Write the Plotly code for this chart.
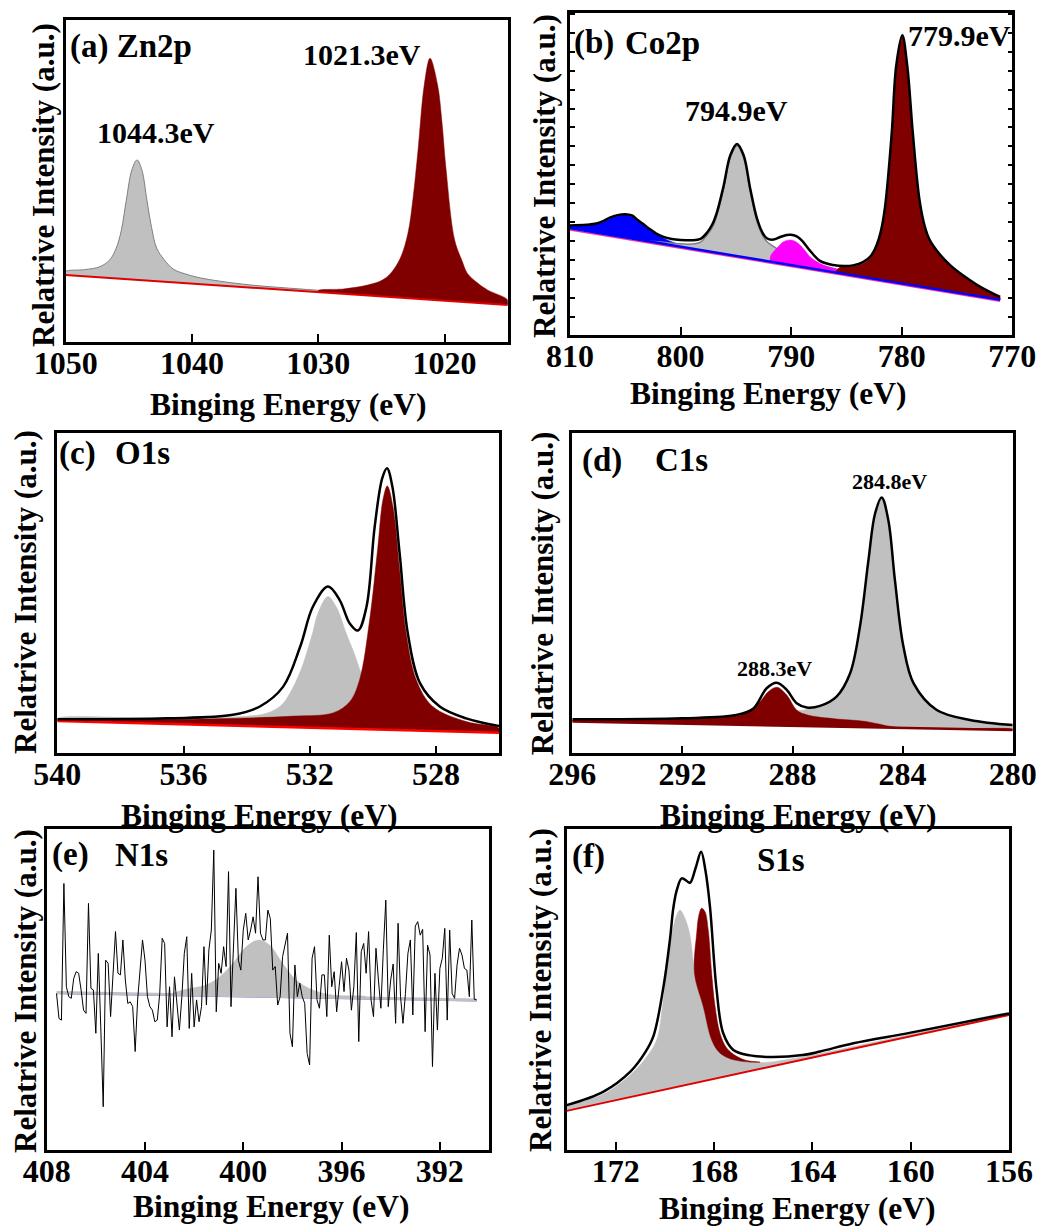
import plotly.graph_objects as go

W, H = 1044, 1232

# ---------------- DATA ----------------
# (a) Zn2p
zn_base_E = [1050, 1015]
zn_base_I = [20.7, 11.4]
zn_gray_E = [1050, 1050, 1048.5, 1047.3, 1046.5, 1046.0, 1045.6, 1045.2, 1044.76, 1044.35, 1043.97, 1043.57,
             1043.2, 1042.8, 1042.2, 1041.46, 1040.3, 1039.3, 1036, 1030.1, 1025, 1020, 1015, 1015]
zn_gray_I = [20.7, 21.8, 22.4, 23.3, 25.5, 29.1, 34.5, 44.0, 53.4, 56.5, 53.4, 44.0,
             35.5, 29.1, 25.5, 22.5, 20.8, 19.8, 17.9, 16.0, 14.5, 13.3, 12.0, 11.4]
zn_red_E = [1030, 1030, 1028, 1026.1, 1025, 1024.26, 1023.5, 1022.9, 1022.5, 1022.1, 1021.6, 1021.15,
            1020.56, 1020.2, 1019.9, 1019.2, 1018.6, 1018.2, 1017.4, 1016.6, 1015, 1015]
zn_red_I = [15.4, 15.9, 16.4, 17.6, 19.0, 21.3, 26.0, 33.7, 44.5, 59.6, 80.0, 88.1,
            80.0, 68.0, 54.4, 31.6, 25.0, 21.3, 18.3, 16.1, 13.0, 11.4]

# (b) Co2p
co_base_E = [810, 771.1]
co_base_I = [33.1, 10.9]
co_pink_I = [32.6, 10.5]
co_blue_E = [810, 810, 808.5, 807.6, 806.9, 806.4, 805.7, 805.0, 804.4, 804.0, 803.4, 802.8, 802.2,
             801.6, 800.8, 800.0, 799.0, 798.5]
co_blue_I = [33.1, 33.8, 34.0, 34.4, 35.2, 36.1, 36.9, 37.2, 36.8, 35.7, 34.2, 32.6, 31.3,
             30.2, 28.9, 27.9, 27.0, 26.5]
co_gray_E = [803.0, 802.0, 800.5, 799.0, 798.2, 797.6, 797.1, 796.7, 796.1, 795.5, 794.9, 794.3, 793.7,
             793.1, 792.6, 792.2, 791.3, 790.4, 789.0, 787.4, 786.0, 784.0, 784.0]
co_gray_I = [29.1, 28.9, 28.4, 28.2, 28.8, 31.0, 33.5, 37.3, 45.6, 55.0, 58.7, 55.0, 44.6,
             35.3, 31.0, 29.0, 26.8, 25.0, 23.5, 21.8, 20.5, 18.8, 18.3]
co_mag_E = [791.9, 791.85, 791.3, 790.7, 790.05, 789.5, 789.2, 788.7, 788.3, 787.8, 787.4, 786.8,
            786.2, 785.5, 784.5, 784.5]
co_mag_I = [22.7, 24.6, 26.9, 28.9, 29.5, 28.8, 27.9, 26.0, 24.3, 23.0, 22.2, 21.3,
            20.7, 20.0, 19.2, 18.6]
co_red_E = [786.0, 785.6, 784.4, 783.5, 782.8, 782.3, 781.9, 781.5, 780.9, 780.5, 779.95, 779.5,
            779.0, 778.4, 777.9, 777.5, 776.6, 775.6, 774.5, 773.2, 772.0, 771.1, 771.1]
co_red_I = [19.4, 21.0, 21.3, 22.2, 24.2, 27.4, 31.8, 39.8, 62.6, 83.3, 92.8, 83.3,
            62.6, 41.9, 33.3, 29.5, 25.0, 21.4, 18.4, 15.4, 13.1, 11.6, 10.9]
co_env_E = [810, 808.5, 807.6, 806.9, 806.4, 805.7, 805.0, 804.4, 804.0, 803.4, 802.8, 802.2, 801.6,
            800.8, 800.0, 799.0, 798.2, 797.6, 797.1, 796.7, 796.1, 795.5, 794.9, 794.3, 793.7,
            793.1, 792.6, 792.2, 791.6, 791.0, 790.4, 790.05, 789.5, 789.0, 788.3, 787.4, 786.2,
            785.2, 784.4, 783.5, 782.8, 782.3, 781.9, 781.5, 780.9, 780.5, 779.95, 779.5, 779.0,
            778.4, 777.9, 777.5, 776.6, 775.6, 774.5, 773.2, 772.0, 771.1]
co_env_I = [34.0, 34.2, 34.6, 35.5, 36.4, 37.2, 37.5, 37.1, 36.0, 34.5, 32.9, 31.5, 30.5,
            29.8, 29.5, 29.4, 29.8, 31.8, 34.5, 38.2, 46.4, 55.8, 59.3, 55.8, 45.4,
            36.3, 31.8, 30.0, 29.6, 30.4, 31.0, 31.1, 30.6, 29.2, 26.2, 23.0, 21.7,
            21.4, 21.6, 22.6, 24.5, 27.6, 32.0, 40.0, 62.8, 83.5, 93.0, 83.5, 62.8,
            42.1, 33.5, 29.7, 25.2, 21.6, 18.6, 15.6, 13.3, 11.8]

# (c) O1s
o_base_E = [540, 526]
o_base_I = [10.1, 6.4]
o_gray_E = [540, 540, 537, 535.5, 534.4, 533.37, 532.9, 532.63, 532.3, 532.1, 531.9, 531.74, 531.42,
            531.16, 531.0, 530.84, 530.6, 530.36, 530.0, 529.5, 529.0, 528.1, 527.0, 526.0, 526.0]
o_gray_I = [10.1, 10.9, 10.9, 11.0, 11.3, 12.5, 15.0, 18.7, 25.5, 31.2, 37.8, 43.7, 48.9,
            45.7, 42.0, 37.4, 31.5, 24.9, 18.5, 13.5, 11.0, 8.6, 7.4, 6.9, 6.4]
o_red_E = [540, 540, 536, 534, 532.5, 531.26, 530.73, 530.42, 530.1, 529.84, 529.68, 529.54, 529.36,
           529.15, 528.94, 528.62, 528.1, 527.04, 526, 526]
o_red_I = [10.1, 10.4, 10.6, 11.0, 11.6, 12.6, 16.1, 22.9, 41.6, 64.4, 79.0, 83.4, 76.9,
           57.2, 37.4, 22.9, 14.6, 9.9, 7.8, 6.4]
o_env_E = [540, 536.5, 534.43, 533.58, 532.84, 532.3, 531.9, 531.42, 531.05, 530.73, 530.47, 530.2,
           529.94, 529.7, 529.55, 529.38, 529.15, 528.89, 528.5, 527.88, 527.04, 526]
o_env_I = [10.6, 10.9, 12.0, 14.6, 20.8, 33.3, 45.7, 52.0, 47.8, 40.5, 38.3, 45.7,
           70.7, 85.8, 88.9, 83.2, 62.4, 37.4, 21.8, 14.6, 10.9, 8.5]

# (d) C1s
c_base_E = [296, 280]
c_base_I = [9.9, 7.3]
c_gray_E = [288.3, 288.2, 287.6, 287.0, 286.4, 285.91, 285.55, 285.24, 285.0, 284.76, 284.52, 284.28,
            283.97, 283.6, 282.76, 281.55, 280.0, 280.0]
c_gray_I = [8.65, 12.6, 13.5, 14.5, 17.5, 24.7, 39.3, 60.0, 74.5, 79.3, 72.5, 53.8,
            33.0, 21.5, 13.2, 10.1, 8.5, 7.3]
c_red_E = [296, 296, 293, 291, 290.63, 289.67, 289.18, 288.88, 288.57, 288.21, 287.85, 287.48,
           286.4, 285.4, 284.45, 284.0, 282.0, 280.0, 280.0]
c_red_I = [9.9, 10.3, 10.6, 11.0, 11.2, 12.5, 16.1, 19.2, 20.6, 18.2, 13.5, 12.0,
           10.7, 10.0, 8.4, 8.0, 7.7, 7.5, 7.3]
c_env_E = [296, 292, 290, 289.42, 288.94, 288.57, 288.21, 287.85, 287.48, 287.0, 286.4, 285.91,
           285.55, 285.24, 285.0, 284.76, 284.52, 284.28, 283.97, 283.6, 282.76, 281.55, 280]
c_env_I = [10.6, 10.9, 12.0, 14.0, 20.3, 22.0, 19.8, 15.6, 14.3, 14.8, 17.7, 24.9,
           39.5, 60.3, 74.8, 79.8, 72.8, 54.1, 33.3, 21.8, 13.5, 10.4, 8.8]

# (e) N1s
n_base_E = [407.6, 390.5]
n_base_I = [49.1, 46.8]
n_blue_I = [48.75, 46.45]
n_gray_E = [403.0, 402.45, 401.5, 400.96, 400.42, 399.88, 399.37, 398.93, 398.4, 397.85, 397.17,
            396.36, 395.0, 395.0]
n_gray_I = [48.5, 49.9, 51.5, 54.0, 58.2, 63.4, 65.5, 63.9, 58.2, 53.0, 49.9,
            48.3, 47.8, 47.4]
n_raw_start = 407.6
n_raw_step = -0.1
n_raw_I = [48.8, 41.0, 40.5, 83.1, 50.9, 47.8, 47.3, 53.5, 55.6, 55.1,
           49.9, 43.6, 42.6, 76.9, 50.4, 49.9, 36.4, 61.3, 38.4, 13.5,
           59.2, 58.2, 41.6, 55.1, 68.1, 55.1, 54.6, 65.5, 53.0, 45.7,
           46.2, 44.7, 30.7, 46.8, 57.2, 65.5, 59.2, 47.8, 44.7, 43.6,
           40.0, 40.5, 48.8, 66.0, 64.4, 38.4, 50.9, 35.3, 54.0, 44.7,
           37.4, 47.8, 61.3, 66.5, 37.9, 55.1, 38.4, 46.8, 40.0, 44.7,
           63.4, 45.2, 62.4, 68.6, 93.5, 43.1, 58.2, 55.1, 63.4, 57.2,
           86.8, 44.7, 63.4, 81.6, 59.2, 56.1, 68.6, 73.8, 65.5, 68.6,
           72.7, 67.6, 85.2, 67.6, 65.5,
           65.5, 74.8, 72.2, 56.1, 57.2, 45.2, 47.8, 60.3, 64.4, 67.6,
           36.4, 32.2, 57.7, 47.8, 52.0, 47.8, 45.7, 30.1, 26.5, 59.8,
           63.4, 46.8, 44.2, 54.6, 54.6, 41.6, 67.0, 50.9, 55.6, 43.1,
           50.9, 58.7, 49.4, 59.8, 56.1, 43.6, 50.9, 67.8, 33.8, 61.8,
           64.4, 55.1, 68.1, 46.8, 41.6, 62.9, 53.0, 44.2, 62.4, 77.9,
           44.7, 53.0, 58.0, 39.5, 70.7, 47.8, 39.5, 48.8, 61.3, 65.5,
           42.1, 69.8, 71.2, 67.0, 68.8, 36.9, 63.9, 60.8, 26.0, 55.1,
           37.4, 56.6, 59.8, 69.1, 40.5, 68.6, 48.8, 47.3, 57.7, 62.9,
           60.8, 56.6, 56.1, 47.8, 71.7, 47.0, 46.8]
n_raw_E = [round(n_raw_start + n_raw_step * k, 2) for k in range(len(n_raw_I))]

# (f) S1s
s_base_E = [174, 156]
s_base_I = [12.2, 42.1]
s_gray_E = [174, 174, 172.5, 171.4, 170.8, 170.34, 170.1, 169.86, 169.66, 169.52, 169.39, 169.2, 169.0,
            168.78, 168.44, 168.1, 167.8, 167.4, 167.0, 166.5, 165.9, 164.37,
            162.0, 160.0, 156.0, 156.0]
s_gray_I = [12.2, 13.5, 17.5, 23.5, 28.5, 34.3, 45.0, 60.3, 69.6, 73.3, 74.8, 72.5, 67.6,
            55.1, 44.7, 34.3, 30.5, 28.6, 27.8, 27.4, 27.3, 29.1,
            32.8, 36.2, 42.6, 42.1]
s_red_E = [168.80, 168.71, 168.62, 168.51, 168.37, 168.24, 168.10, 167.96, 167.76, 167.49, 167.08,
           166.67, 166.13, 166.5, 167.0, 167.4, 167.8, 168.1, 168.44, 168.80]
s_red_I = [55.1, 67.6, 73.3, 75.4, 74.3, 68.6, 55.1, 44.7, 36.4, 31.8, 29.2,
           27.9, 27.4, 27.4, 27.8, 28.6, 30.5, 34.3, 44.7, 55.1]
s_env_E = [174, 172.5, 171.4, 170.8, 170.47, 170.07, 169.8, 169.66, 169.52, 169.32, 169.1, 168.98,
           168.75, 168.53, 168.35, 168.17, 167.9, 167.63, 167.22, 166.54, 165.59, 164.4, 163.69,
           162.33, 160, 156]
s_env_I = [14.0, 18.2, 24.5, 30.5, 35.5, 50.5, 65.5, 75.5, 81.0, 84.7, 83.8, 83.3,
           88.0, 93.0, 87.0, 75.9, 49.9, 36.4, 31.2, 29.5, 29.0, 29.6, 30.7,
           33.3, 36.6, 42.6]

# axes: ranges and tick labels
x_ranges = [[1050, 1015], [810, 770], [540, 526], [296, 280], [408, 390], [174, 156]]
x_ticks = [[1050, 1040, 1030, 1020], [810, 800, 790, 780, 770], [540, 536, 532, 528],
           [296, 292, 288, 284, 280], [408, 404, 400, 396, 392], [172, 168, 164, 160, 156]]

# ---------------- LAYOUT (pixel boxes of the six frames) ----------------
boxes = [(65.7, 20, 507.7, 341.7), (570, 12.7, 1012.3, 335), (57.3, 432.7, 499, 753.3),
         (572.3, 432.7, 1012.7, 753.3), (46.7, 829.3, 489, 1150), (566.7, 829.3, 1009, 1150)]

GRAY = '#c0c0c0'
MAROON = '#800000'
FONT = 'Liberation Serif'

fig = go.Figure()


def axn(i):
    return ('x' if i == 0 else f'x{i+1}'), ('y' if i == 0 else f'y{i+1}')


def poly(i, E, I, fill, lc=None, lw=0.0, smooth=1.0):
    xa, ya = axn(i)
    fig.add_trace(go.Scatter(x=E, y=I, xaxis=xa, yaxis=ya, mode='lines', fill='toself',
                             fillcolor=fill,
                             line=dict(color=lc or fill, width=lw, shape='spline', smoothing=smooth),
                             hoverinfo='skip', showlegend=False))


def line(i, E, I, color, lw, shape='spline'):
    xa, ya = axn(i)
    fig.add_trace(go.Scatter(x=E, y=I, xaxis=xa, yaxis=ya, mode='lines',
                             line=dict(color=color, width=lw, shape=shape, smoothing=1.0),
                             hoverinfo='skip', showlegend=False))


# (a)
poly(0, zn_gray_E, zn_gray_I, GRAY, '#7f7f7f', 1.0)
poly(0, zn_red_E, zn_red_I, MAROON, MAROON, 0.5)
line(0, zn_base_E, zn_base_I, '#e00000', 2.0, 'linear')

# (b)
poly(1, co_blue_E, co_blue_I, '#0000ff', '#0000ff', 0.5)
poly(1, co_gray_E, co_gray_I, GRAY, '#7f7f7f', 1.5)
poly(1, co_mag_E, co_mag_I, '#ff00ff', '#ff00ff', 0.5)
poly(1, co_red_E, co_red_I, MAROON, MAROON, 0.5)
line(1, co_base_E, co_pink_I, '#ff3399', 1.5, 'linear')
line(1, co_base_E, co_base_I, '#0000ff', 2.5, 'linear')
line(1, co_env_E, co_env_I, 'black', 2.5)

# (c)
poly(2, o_gray_E, o_gray_I, GRAY, GRAY, 0.5)
poly(2, o_red_E, o_red_I, MAROON, MAROON, 0.5)
line(2, o_base_E, o_base_I, '#ff0000', 2.5, 'linear')
line(2, o_env_E, o_env_I, 'black', 2.5)

# (d)
poly(3, c_gray_E, c_gray_I, GRAY, GRAY, 0.5)
poly(3, c_red_E, c_red_I, MAROON, MAROON, 0.5)
line(3, c_base_E, c_base_I, MAROON, 2.5, 'linear')
line(3, c_env_E, c_env_I, 'black', 2.5)

# (e)
poly(4, n_gray_E, n_gray_I, GRAY, GRAY, 0.5)
line(4, n_base_E, n_blue_I, '#6666ff', 1.0, 'linear')
line(4, n_base_E, n_base_I, GRAY, 3.0, 'linear')
line(4, n_raw_E, n_raw_I, 'black', 1.0, 'linear')

# (f)
poly(5, s_gray_E, s_gray_I, GRAY, GRAY, 0.5)
poly(5, s_red_E, s_red_I, MAROON, MAROON, 0.5)
line(5, s_base_E, s_base_I, '#e00000', 2.0, 'linear')
line(5, s_env_E, s_env_I, 'black', 2.5)

tickfont = dict(family=FONT, size=32, color='black', weight='bold')
lay = dict(width=W, height=H, autosize=False, margin=dict(l=0, r=0, t=0, b=0, pad=0),
           paper_bgcolor='white', plot_bgcolor='white', showlegend=False, template='none')
for i, (x0, y0, x1, y1) in enumerate(boxes):
    xk = 'xaxis' if i == 0 else f'xaxis{i+1}'
    yk = 'yaxis' if i == 0 else f'yaxis{i+1}'
    ya = 'y' if i == 0 else f'y{i+1}'
    xa = 'x' if i == 0 else f'x{i+1}'
    lay[xk] = dict(domain=[x0 / W, x1 / W], range=x_ranges[i], anchor=ya, tickmode='array',
                   tickvals=x_ticks[i], ticktext=[str(v) for v in x_ticks[i]],
                   ticks='inside', ticklen=8, tickwidth=2, tickcolor='black',
                   showline=True, linewidth=2.5, linecolor='black', mirror=True,
                   showgrid=False, zeroline=False, tickfont=tickfont, automargin=False,
                   ticklabelstandoff=-9)
    yd = dict(domain=[1 - y1 / H, 1 - y0 / H], range=[0, 100], anchor=xa,
              showline=True, linewidth=2.5, linecolor='black', mirror=True,
              showgrid=False, zeroline=False, showticklabels=False, ticks='', automargin=False)
    if i == 1:
        yd.update(ticks='inside', ticklen=5, tickwidth=1.5, tickcolor='black',
                  tick0=5.7, dtick=5.87, tickmode='linear', mirror='ticks')
    lay[yk] = yd

fig.update_layout(**lay)


def ann(text, x, y, size, xanchor='center', angle=0):
    fig.add_annotation(text=text, x=x / W, y=1 - y / H, xref='paper', yref='paper',
                       xanchor=xanchor, yanchor='middle', showarrow=False, textangle=angle,
                       font=dict(family=FONT, size=size, color='black', weight='bold'))


# axis titles
xt = [(288.3, 405), (768.3, 393), (259, 815), (798.3, 815), (271.7, 1206.7), (797.3, 1208)]
yt = [(43, 185), (545, 176), (25, 592), (543.3, 593), (25, 991), (540, 990)]
for (x, y) in xt:
    ann('Binging Energy (eV)', x, y, 31.5)
for (x, y) in yt:
    ann('Relatrive Intensity (a.u.)', x, y, 31, angle=-90)

# panel labels
ann('(a) Zn2p', 68, 46.7, 33, 'left')
ann('(b)', 571.7, 43, 33, 'left')
ann('Co2p', 623, 43, 33, 'left')
ann('(c)', 57, 453.3, 33, 'left')
ann('O1s', 113, 453.3, 33, 'left')
ann('(d)', 580, 460, 33, 'left')
ann('C1s', 653, 460, 33, 'left')
ann('(e)', 50, 855, 33, 'left')
ann('N1s', 113, 855, 33, 'left')
ann('(f)', 570, 856.7, 33, 'left')
ann('S1s', 755, 860, 33, 'left')

# peak labels
ann('1044.3eV', 156, 133, 30)
ann('1021.3eV', 362, 55, 30)
ann('794.9eV', 736, 110, 30)
ann('779.9eV', 959, 35, 30)
ann('284.8eV', 889.7, 481.7, 22)
ann('288.3eV', 774.5, 668.3, 22)

fig.write_html('out.html', config={'displayModeBar': False},
               post_script="document.body.style.margin='0';document.body.style.overflow='hidden';")
